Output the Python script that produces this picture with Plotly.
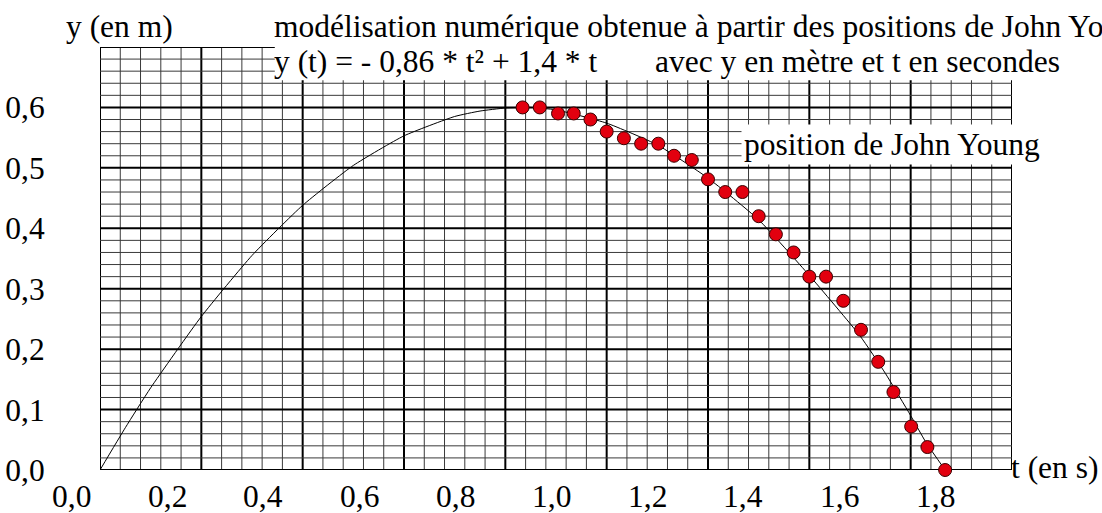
import plotly.graph_objects as go

# ---- data ----
t_points = [0.834, 0.868, 0.904, 0.935, 0.968, 1.000, 1.034, 1.068, 1.102, 1.133,
            1.168, 1.200, 1.234, 1.268, 1.300, 1.334, 1.369, 1.400, 1.433, 1.467,
            1.502, 1.536, 1.566, 1.601, 1.633, 1.668]
y_points = [0.600, 0.600, 0.590, 0.590, 0.580, 0.560, 0.549, 0.540, 0.540, 0.520,
            0.513, 0.481, 0.460, 0.460, 0.420, 0.390, 0.360, 0.320, 0.320, 0.280,
            0.232, 0.179, 0.129, 0.072, 0.038, 0.000]

t_model = [0, 0.05, 0.1, 0.2, 0.3, 0.4, 0.5, 0.6, 0.7, 0.75, 0.8, 0.85, 0.9, 1.0,
           1.1, 1.2, 1.3, 1.4, 1.5, 1.55, 1.6, 1.63, 1.668]
y_model = [0, 0.070, 0.136, 0.254, 0.355, 0.438, 0.504, 0.553, 0.585, 0.594, 0.599,
           0.600, 0.596, 0.574, 0.538, 0.483, 0.414, 0.322, 0.222, 0.160, 0.090,
           0.046, 0.0]

x_tick_values = [0.0, 0.2, 0.4, 0.6, 0.8, 1.0, 1.2, 1.4, 1.6, 1.8]
x_tick_labels = ["0,0", "0,2", "0,4", "0,6", "0,8", "1,0", "1,2", "1,4", "1,6", "1,8"]
y_tick_values = [0.0, 0.1, 0.2, 0.3, 0.4, 0.5, 0.6]
y_tick_labels = ["0,0", "0,1", "0,2", "0,3", "0,4", "0,5", "0,6"]

# ---- layout constants ----
W, H = 1102, 513
L, R, T, B = 100, 90, 47, 43
X_MAX, Y_MAX = 1.8, 0.7
FONT = "Liberation Serif"
FS = 31.5

def px_to_paper(px, py):
    return (px - L) / (W - L - R), (H - B - py) / (H - T - B)

fig = go.Figure()

fig.add_trace(go.Scatter(x=t_model, y=y_model, mode="lines",
                         line=dict(color="black", width=1, shape="spline", smoothing=0.5),
                         hoverinfo="skip", showlegend=False, cliponaxis=False))
fig.add_trace(go.Scatter(x=t_points, y=y_points, mode="markers",
                         marker=dict(size=13, color="#e2000f",
                                     line=dict(color="#3a0000", width=1)),
                         showlegend=False, cliponaxis=False))

# ---- graph-paper grid ----
shapes = []
nx = int(round(X_MAX / 0.04))
for k in range(nx + 1):
    x = k * 0.04
    major = (k % 5 == 0)
    shapes.append(dict(type="line", xref="x", yref="y", x0=x, x1=x, y0=0, y1=Y_MAX,
                       line=dict(color="black" if major else "#3a3a3a", width=2 if major else 1),
                       layer="below"))
ny = int(round(Y_MAX / 0.02))
for j in range(ny + 1):
    y = j * 0.02
    major = (j % 5 == 0)
    shapes.append(dict(type="line", xref="x", yref="y", x0=0, x1=X_MAX, y0=y, y1=y,
                       line=dict(color="black" if major else "#3a3a3a", width=2 if major else 1),
                       layer="below"))
# white band behind the equation line
shapes.append(dict(type="rect", xref="x", yref="y", x0=0.345, x1=X_MAX + 0.02,
                   y0=0.645, y1=Y_MAX + 0.02, fillcolor="white", line=dict(width=0),
                   layer="below"))

annotations = []
# misaligned x tick labels (as on the original)
for v, lab in zip(x_tick_values, x_tick_labels):
    cx = 71 + 480 * v
    xp, yp = px_to_paper(cx, 496)
    annotations.append(dict(text=lab, x=xp, y=yp, xref="paper", yref="paper",
                            xanchor="center", yanchor="middle", showarrow=False,
                            font=dict(family=FONT, size=FS, color="black")))

def label(text, px, py, bg=None):
    xp, yp = px_to_paper(px, py)
    d = dict(text=text, x=xp, y=yp, xref="paper", yref="paper", xanchor="left",
             yanchor="middle", showarrow=False,
             font=dict(family=FONT, size=FS, color="black"))
    if bg:
        d["bgcolor"] = bg
        d["borderpad"] = 2
    annotations.append(d)

label("y (en m)", 64, 27)
label("modélisation numérique obtenue à partir des positions de John Young", 272, 27)
label("y (t) = - 0,86 * t² + 1,4 * t", 272, 61)
label("avec y en mètre et t en secondes", 653, 61)
label("position de John Young", 741, 144, bg="white")
label("t (en s)", 1009, 467)

fig.update_layout(
    width=W, height=H,
    margin=dict(l=L, r=R, t=T, b=B, autoexpand=False),
    paper_bgcolor="white", plot_bgcolor="white",
    shapes=shapes, annotations=annotations,
    xaxis=dict(range=[0, X_MAX], showgrid=False, zeroline=False, showline=False,
               showticklabels=False, ticks="", automargin=False),
    yaxis=dict(range=[0, Y_MAX], showgrid=False, zeroline=False, showline=False,
               tickvals=y_tick_values, ticktext=y_tick_labels, ticks="outside",
               ticklen=48, tickcolor="rgba(0,0,0,0)", automargin=False,
               tickfont=dict(family=FONT, size=FS, color="black")),
    font=dict(family=FONT, size=FS, color="black"),
)

fig.write_html("out.html", config={"displayModeBar": False},
               post_script="document.body.style.margin='0';document.body.style.overflow='hidden';")
